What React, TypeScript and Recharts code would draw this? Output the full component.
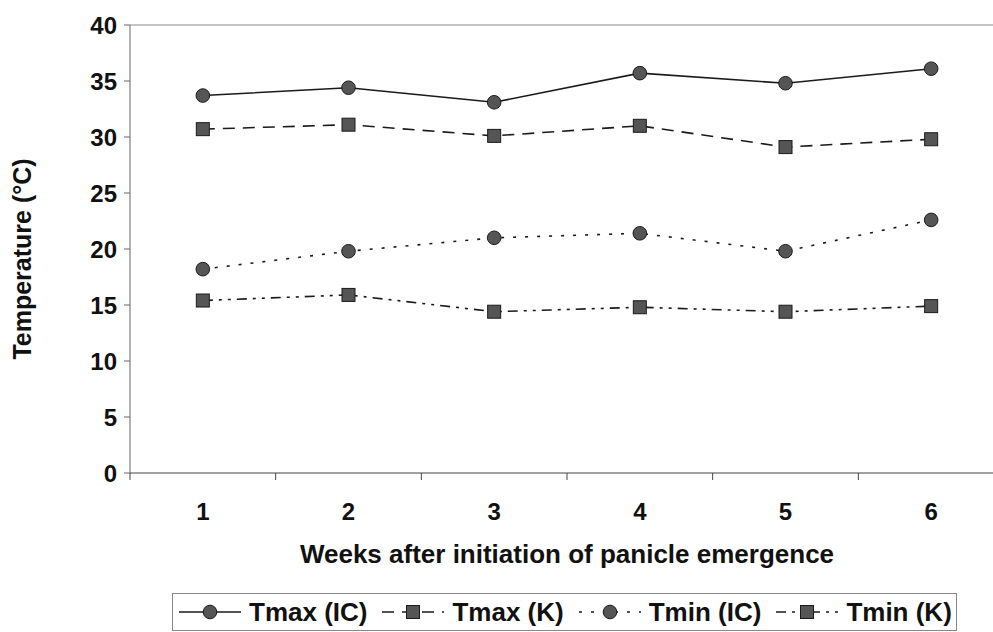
import React from "react";
import { LineChart, Line, XAxis, YAxis, ReferenceLine } from "recharts";

const WEEKS = [1, 2, 3, 4, 5, 6];
const TMAX_IC = [33.7, 34.4, 33.1, 35.7, 34.8, 36.1];
const TMAX_K = [30.7, 31.1, 30.1, 31.0, 29.1, 29.8];
const TMIN_IC = [18.2, 19.8, 21.0, 21.4, 19.8, 22.6];
const TMIN_K = [15.4, 15.9, 14.4, 14.8, 14.4, 14.9];
const Y_TICKS = [0, 5, 10, 15, 20, 25, 30, 35, 40];

const data = WEEKS.map((week, i) => ({
  week,
  tmaxIC: TMAX_IC[i],
  tmaxK: TMAX_K[i],
  tminIC: TMIN_IC[i],
  tminK: TMIN_K[i],
}));

const FONT = '"Liberation Sans", Arial, sans-serif';
const INK = "#1a1a1a";
const MARKER_FILL = "#555";

// chart box is a bit wider than the window: the original figure was cropped on the right
const CHART_W = 1010;
const CHART_H = 632;
const MARGIN = { top: 25, right: 6, left: 0, bottom: 0 };
const Y_AXIS_W = 130;
const X_AXIS_H = 159;
const BAND = (CHART_W - MARGIN.left - MARGIN.right - Y_AXIS_W) / WEEKS.length;

type Shape = "circle" | "square";

const SERIES: { key: string; name: string; dash?: string; shape: Shape }[] = [
  { key: "tmaxIC", name: "Tmax (IC)", shape: "circle" },
  { key: "tmaxK", name: "Tmax (K)", dash: "12 8", shape: "square" },
  { key: "tminIC", name: "Tmin (IC)", dash: "3 9", shape: "circle" },
  { key: "tminK", name: "Tmin (K)", dash: "10 6 3 6 3 6", shape: "square" },
];

function Marker({ cx, cy, shape }: { cx: number; cy: number; shape: Shape }) {
  if (shape === "square") {
    return <rect x={cx - 6.5} y={cy - 6.5} width={13} height={13} fill={MARKER_FILL} stroke={INK} strokeWidth={1} />;
  }
  return <circle cx={cx} cy={cy} r={6.8} fill={MARKER_FILL} stroke={INK} strokeWidth={1} />;
}

function makeDot(shape: Shape) {
  return (props: any) => {
    const { cx, cy, index } = props;
    if (cx == null || cy == null) return <g key={index} />;
    return <Marker key={index} cx={cx} cy={cy} shape={shape} />;
  };
}

type TickProps = { x?: number; y?: number; payload?: { value?: string | number } };

// label under the point, tick mark on the left boundary of the category
function renderWeekTick({ x = 0, y = 0, payload }: TickProps) {
  return (
    <g transform={`translate(${x},${y})`}>
      <line x1={-BAND / 2} x2={-BAND / 2} y1={0} y2={7} stroke="#444" strokeWidth={1} />
      <text x={0} y={38} textAnchor="middle" dominantBaseline="central" fill="#111" fontSize={24} fontWeight="bold" fontFamily={FONT}>
        {payload?.value}
      </text>
    </g>
  );
}

function renderYTitle(props: any) {
  const vb = props.viewBox || { x: 0, y: 0, width: 0, height: 0 };
  const cx = vb.x + 22;
  const cy = vb.y + vb.height / 2 + 10;
  return (
    <text x={cx} y={cy} transform={`rotate(-90 ${cx} ${cy})`} textAnchor="middle" dominantBaseline="central" fill="#111" fontSize={25} fontWeight="bold" fontFamily={FONT}>
      Temperature (°C)
    </text>
  );
}

function LegendBox() {
  return (
    <div
      style={{
        position: "absolute",
        left: 172,
        top: 593,
        height: 38,
        border: "1px solid #888",
        display: "flex",
        alignItems: "center",
        paddingLeft: 6,
        paddingRight: 4,
        fontFamily: FONT,
        fontWeight: "bold",
        fontSize: 26,
        color: "#111",
        boxSizing: "border-box",
        whiteSpace: "nowrap",
      }}
    >
      {SERIES.map((s, i) => (
        <div key={s.key} style={{ display: "flex", alignItems: "center", marginRight: i === SERIES.length - 1 ? 0 : 15 }}>
          <svg width={62} height={20}>
            <line x1={0} x2={62} y1={10} y2={10} stroke={INK} strokeWidth={1.6} strokeDasharray={s.dash} />
            <Marker cx={31} cy={10} shape={s.shape} />
          </svg>
          <span style={{ marginLeft: 8 }}>{s.name}</span>
        </div>
      ))}
    </div>
  );
}

export default function App() {
  return (
    <div style={{ position: "absolute", left: 0, top: 0, width: 993, height: 632, overflow: "hidden", background: "#fff" }}>
      <LineChart width={CHART_W} height={CHART_H} data={data} margin={MARGIN}>
        <XAxis
          dataKey="week"
          type="number"
          domain={[0.5, 6.5]}
          ticks={WEEKS}
          height={X_AXIS_H}
          tickSize={0}
          tickMargin={0}
          tick={renderWeekTick}
          axisLine={{ stroke: "#444", strokeWidth: 1 }}
          label={{
            value: "Weeks after initiation of panicle emergence",
            position: "insideTop",
            offset: 72,
            fill: "#111",
            fontSize: 26,
            fontWeight: "bold",
            fontFamily: FONT,
          }}
        />
        <YAxis
          domain={[0, 40]}
          ticks={Y_TICKS}
          width={Y_AXIS_W}
          tickSize={6}
          tickMargin={7}
          axisLine={{ stroke: "#666", strokeWidth: 1 }}
          tickLine={{ stroke: "#666" }}
          tick={{ fill: "#111", fontSize: 24, fontWeight: "bold", fontFamily: FONT }}
          label={{ content: renderYTitle }}
        />
        <ReferenceLine y={40} stroke="#888" strokeWidth={1} />
        {SERIES.map((s) => (
          <Line
            key={s.key}
            dataKey={s.key}
            name={s.name}
            type="linear"
            stroke={INK}
            strokeWidth={1.6}
            strokeDasharray={s.dash}
            dot={makeDot(s.shape)}
            activeDot={false}
            isAnimationActive={false}
          />
        ))}
      </LineChart>
      <LegendBox />
    </div>
  );
}
